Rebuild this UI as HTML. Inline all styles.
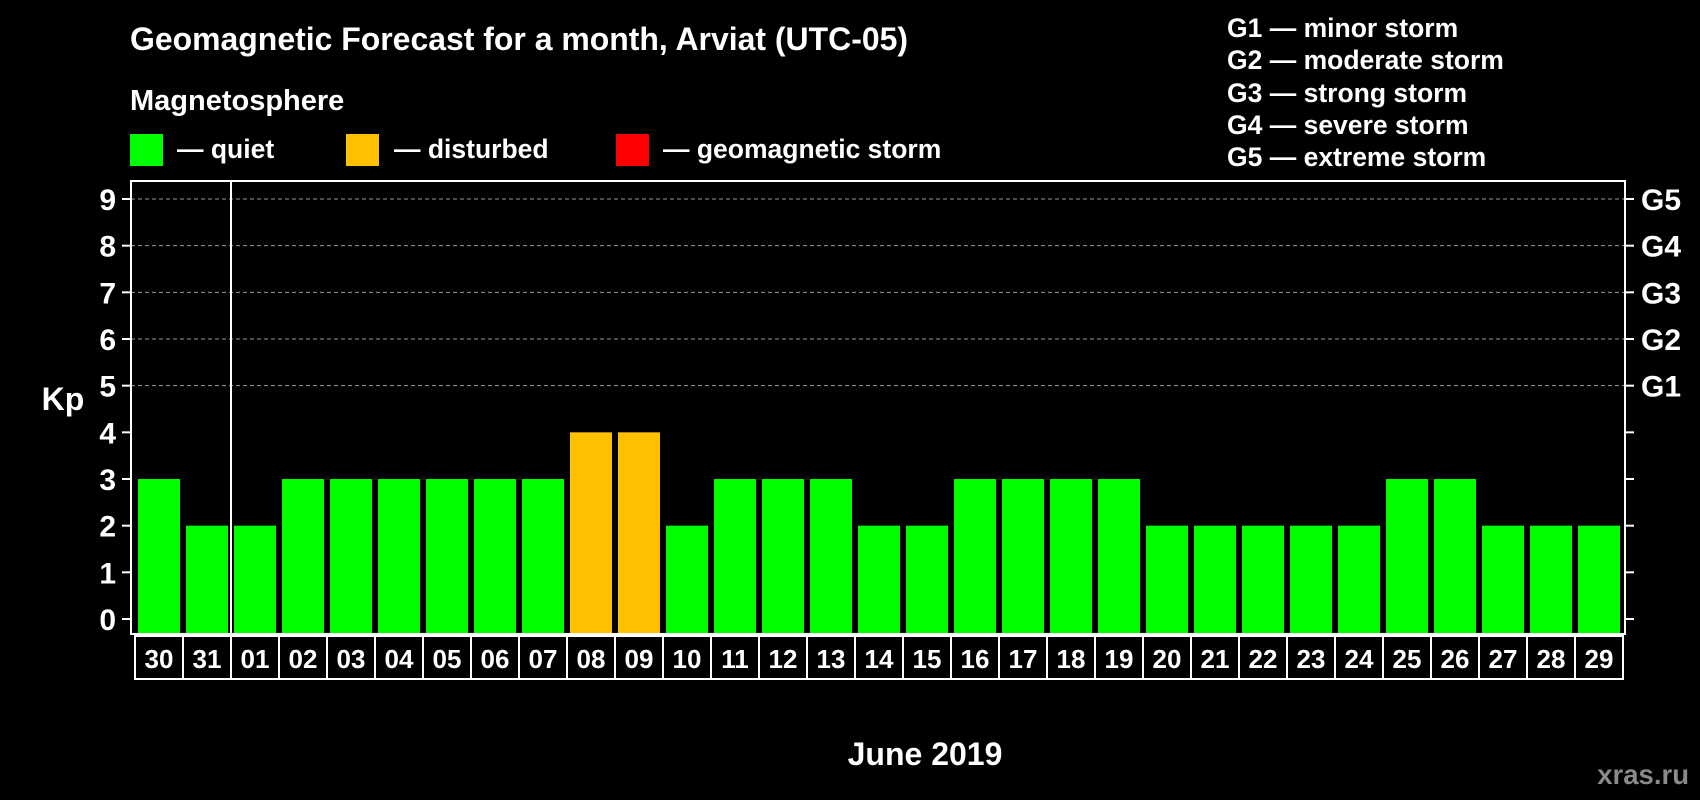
<!DOCTYPE html>
<html><head><meta charset="utf-8"><style>
html,body{margin:0;padding:0;background:#000;}
svg{display:block;font-family:"Liberation Sans",Arial,sans-serif;font-weight:bold;}
</style></head><body>
<svg id="chart" width="1700" height="800" viewBox="0 0 1700 800" xmlns="http://www.w3.org/2000/svg">
<rect width="1700" height="800" fill="#000"/>
<text x="130" y="50" fill="#fff" font-size="32" textLength="778" lengthAdjust="spacingAndGlyphs">Geomagnetic Forecast for a month, Arviat (UTC-05)</text>
<text x="130" y="110" fill="#fff" font-size="29">Magnetosphere</text>
<rect x="130" y="134" width="33" height="32" fill="#00ff00"/>
<text x="177" y="158" fill="#fff" font-size="26.5">— quiet</text>
<rect x="346" y="134" width="33" height="32" fill="#ffc000"/>
<text x="394" y="158" fill="#fff" font-size="26.5">— disturbed</text>
<rect x="616" y="134" width="33" height="32" fill="#ff0000"/>
<text x="663" y="158" fill="#fff" font-size="26.5">— geomagnetic storm</text>
<g fill="#fff" font-size="26.5">
<text x="1227" y="37">G1 — minor storm</text>
<text x="1227" y="69">G2 — moderate storm</text>
<text x="1227" y="102">G3 — strong storm</text>
<text x="1227" y="134">G4 — severe storm</text>
<text x="1227" y="166">G5 — extreme storm</text>
</g>
<text x="63" y="410" fill="#fff" font-size="32" text-anchor="middle">Kp</text>
<text x="925" y="765" fill="#fff" font-size="32" text-anchor="middle">June 2019</text>
<text x="1689" y="784" fill="#8a8a8a" font-size="27.5" text-anchor="end">xras.ru</text>
<g id="plot"></g>
</svg>
<script>
const days = ["30","31","01","02","03","04","05","06","07","08","09","10","11","12","13","14","15","16","17","18","19","20","21","22","23","24","25","26","27","28","29"];
const kpValues = [3,2,2,3,3,3,3,3,3,4,4,2,3,3,3,2,2,3,3,3,3,2,2,2,2,2,3,3,2,2,2];
const yTicks = [0,1,2,3,4,5,6,7,8,9];
const gLabels = ["G1","G2","G3","G4","G5"];
const gLevels = [5,6,7,8,9];

const NS = "http://www.w3.org/2000/svg";
const plotG = document.getElementById("plot");
const pLeft = 131, pRight = 1625, pTop = 181, pBottom = 634;
const yZero = 619, unitPx = (619 - 199) / 9;
const xStart = 138, pitch = 48, barW = 42;
const yScale = v => yZero - v * unitPx;
const xScale = i => xStart + i * pitch;
function mk(tag, attrs) { const e = document.createElementNS(NS, tag); for (const k in attrs) e.setAttribute(k, attrs[k]); plotG.appendChild(e); return e; }
function color(v) { return v >= 5 ? "#ff0000" : v >= 4 ? "#ffc000" : "#00ff00"; }

gLevels.forEach(v => {
  const l = mk("line", {x1: pLeft, x2: pRight, y1: yScale(v), y2: yScale(v), stroke: "#9a9a9a", "stroke-width": 1, "stroke-dasharray": "4,3"});
  
  
});
kpValues.forEach((v, i) => {
  const r = mk("rect", {x: xScale(i), y: yScale(v), width: barW, height: pBottom - 1 - yScale(v), fill: color(v)});
  
  
});
const fr = mk("rect", {x: pLeft, y: pTop, width: pRight - pLeft, height: pBottom - pTop, fill: "none", stroke: "#fff", "stroke-width": 2});


const sep = mk("line", {x1: 231, x2: 231, y1: pTop, y2: 679, stroke: "#fff", "stroke-width": 2});


yTicks.forEach(v => {
  const t = mk("line", {x1: 122, x2: pLeft, y1: yScale(v), y2: yScale(v), stroke: "#fff", "stroke-width": 2});
  
  
  const t2 = mk("line", {x1: pRight, x2: 1634, y1: yScale(v), y2: yScale(v), stroke: "#fff", "stroke-width": 2});
  
  
  const tx = mk("text", {x: 116, y: yScale(v) + 11, fill: "#fff", "font-size": 30, "text-anchor": "end"});
  tx.textContent = v;
  
  
});
gLabels.forEach((g, i) => {
  const tx = mk("text", {x: 1641, y: yScale(gLevels[i]) + 11, fill: "#fff", "font-size": 30});
  tx.textContent = g;
  
  
});
days.forEach((d, i) => {
  const cx = 135 + i * pitch;
  const c = mk("rect", {x: cx, y: 636, width: pitch, height: 43, fill: "none", stroke: "#fff", "stroke-width": 2});
  
  
  const tx = mk("text", {x: cx + pitch / 2, y: 668, fill: "#fff", "font-size": 26, "text-anchor": "middle"});
  tx.textContent = d;
  
  
});
</script>
</body></html>
